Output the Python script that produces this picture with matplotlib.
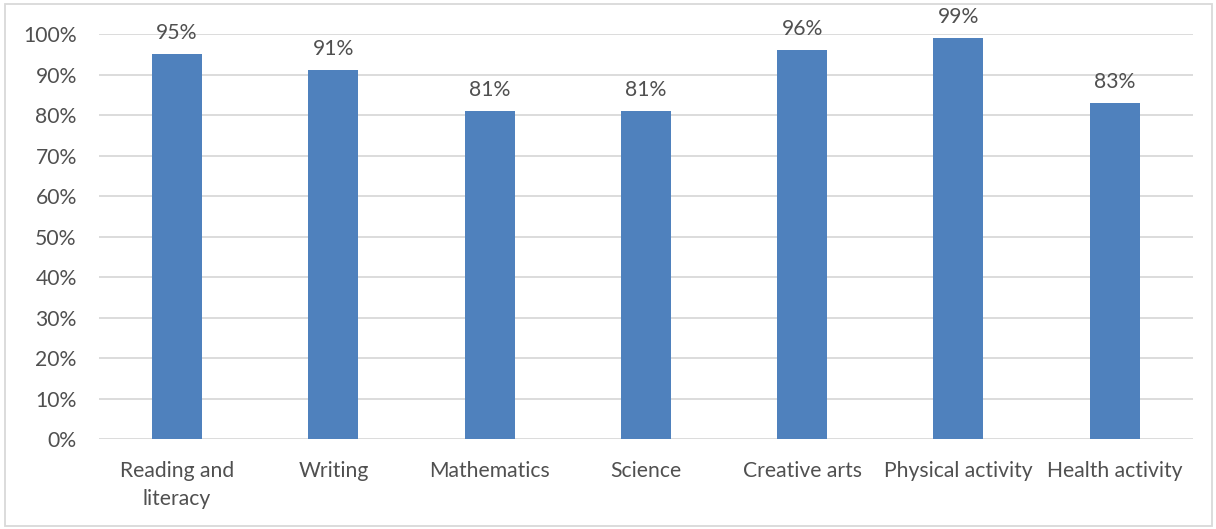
import matplotlib.pyplot as plt
from matplotlib.patches import Rectangle
from matplotlib.ticker import PercentFormatter

categories = ["Reading and\nliteracy", "Writing", "Mathematics", "Science",
              "Creative arts", "Physical activity", "Health activity"]
values = [95, 91, 81, 81, 96, 99, 83]
yticks = list(range(0, 101, 10))

plt.rcParams['font.family'] = ['Lato', 'DejaVu Sans']
txt = '#505050'
fs = 15.2

fig = plt.figure(figsize=(12.16, 5.29), dpi=100)
ax = fig.add_axes([0.0814, 0.170, 0.8996, 0.7657])

x = range(len(categories))
bars = ax.bar(x, values, width=0.32, color='#4f81bd', zorder=3)

# value labels above each bar
for b, v in zip(bars, values):
    ax.annotate(f"{v}%", (b.get_x() + b.get_width() / 2, v),
                xytext=(0, 8), textcoords='offset points',
                ha='center', va='bottom', fontsize=fs, color=txt,
                annotation_clip=False)

ax.set_xlim(-0.5, len(categories) - 0.5)
ax.set_ylim(0, 100)
ax.set_yticks(yticks)
ax.yaxis.set_major_formatter(PercentFormatter(decimals=0))
ax.set_xticks(list(x))
ax.set_xticklabels(categories, linespacing=1.5)
ax.tick_params(axis='both', length=0, labelsize=fs, labelcolor=txt)
ax.tick_params(axis='y', pad=16)
ax.tick_params(axis='x', pad=16)
ax.grid(axis='y', color='#d9d9d9', linewidth=1.3, zorder=0)
for s in ax.spines.values():
    s.set_visible(False)

# light frame round the whole chart
fig.patches.append(Rectangle((5 / 1216, 3 / 529), 1207 / 1216, 522 / 529,
                             transform=fig.transFigure, fill=False,
                             edgecolor='#d9d9d9', linewidth=1.3))

fig.savefig("out.png", dpi=100)
